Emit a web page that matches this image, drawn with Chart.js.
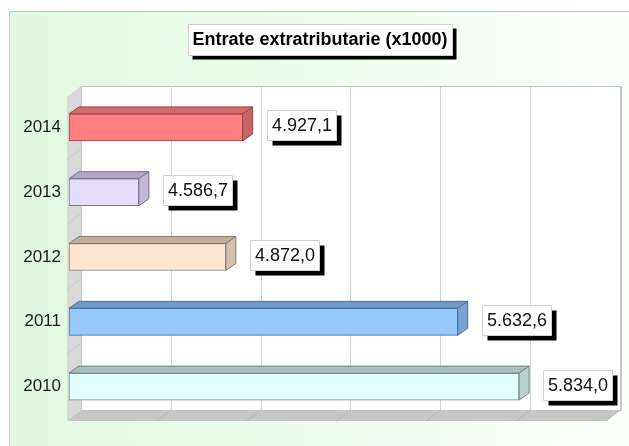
<!DOCTYPE html>
<html>
<head>
<meta charset="utf-8">
<style>
  html, body { margin: 0; padding: 0; background: #fff; }
  #wrap { width: 629px; height: 446px; }
</style>
<script src="https://cdn.jsdelivr.net/npm/chart.js@4.4.1/dist/chart.umd.min.js"></script>
</head>
<body>
<div id="wrap"><canvas id="chart" width="629" height="446"></canvas></div>
<script>
const titleText = 'Entrate extratributarie (x1000)';
const years = ['2014', '2013', '2012', '2011', '2010'];
const values = [4927.1, 4586.7, 4872.0, 5632.6, 5834.0];

// front / top / side faces and edge of each bar
const frontColors = ['#ff8080', '#e6dcff', '#ffe5cf', '#96c8fa', '#e0ffff'];
const topColors = ['#d46a6a', '#b3a6c6', '#c3ae9c', '#6f9bcb', '#a9bfbd'];
const sideColors = ['#c96262', '#c3b8d8', '#d1c0ae', '#7aa3d3', '#b6d1cf'];
const edgeColors = ['#9a4646', '#7d6f8e', '#8a7a6a', '#4a6d96', '#6f8584'];

const axisMin = Math.min(...values) * 0.95;
const axisMax = Math.max(...values) * 1.05;
const gridCount = 6;

const FONT = '"Liberation Sans", Arial, sans-serif';

function fmt(v) {
  const [i, d] = v.toFixed(1).split('.');
  return i.replace(/\B(?=(\d{3})+(?!\d))/g, '.') + ',' + d;
}

function shadowBox(ctx, x, y, w, h, off) {
  ctx.fillStyle = '#000';
  ctx.fillRect(x + off, y + off, w, h);
  ctx.fillStyle = '#fff';
  ctx.fillRect(x, y, w, h);
  ctx.strokeStyle = '#d0d0d0';
  ctx.strokeRect(x, y, w, h);
}

const depth3d = {
  id: 'depth3d',
  beforeDraw(chart) {
    const { ctx, width, height, chartArea: a } = chart;
    const xs = chart.scales.x;
    ctx.save();

    // panel
    ctx.fillStyle = '#fff';
    ctx.fillRect(0, 0, width, height);
    const g = ctx.createLinearGradient(9, 0, width, 0);
    g.addColorStop(0, '#e0f9e0');
    g.addColorStop(1, '#fbfffb');
    ctx.fillStyle = g;
    ctx.fillRect(9, 11, width - 9, height - 11);
    ctx.strokeStyle = '#c4c8c4';
    ctx.lineWidth = 1;
    ctx.beginPath();
    ctx.moveTo(9.5, height);
    ctx.lineTo(9.5, 11.5);
    ctx.lineTo(width, 11.5);
    ctx.stroke();

    // title in a shadowed box
    ctx.font = 'bold 18px ' + FONT;
    const tw = ctx.measureText(titleText).width;
    const cx = 320, cy = 39;
    const bw = Math.round(tw + 9), bh = 31;
    const bx = Math.round(cx - bw / 2) + 0.5, by = Math.round(cy - bh / 2) + 0.5;
    shadowBox(ctx, bx, by, bw, bh, 4);
    ctx.fillStyle = '#000';
    ctx.textAlign = 'center';
    ctx.textBaseline = 'middle';
    ctx.fillText(titleText, cx, cy + 1);

    // walls
    const dx = 14, dy = 11;
    const L = a.left - 2, R = a.right - 2, T = a.top + 2, B = a.bottom + 2;

    // back wall
    ctx.fillStyle = '#fff';
    ctx.fillRect(L + dx, T - dy, R - L, B - T);
    ctx.strokeStyle = '#d2d2d2';
    for (let i = 1; i < gridCount; i++) {
      const v = axisMin + i * (axisMax - axisMin) / gridCount;
      const gx = Math.round(xs.getPixelForValue(v) - 2 + dx) + 0.5;
      ctx.beginPath();
      ctx.moveTo(gx, T - dy);
      ctx.lineTo(gx, B - dy);
      ctx.stroke();
    }
    ctx.strokeStyle = '#c6c6c6';
    ctx.strokeRect(L + dx + 0.5, T - dy + 0.5, R - L, B - T);
    ctx.lineWidth = 2;
    ctx.beginPath();
    ctx.moveTo(R + dx + 1, T - dy);
    ctx.lineTo(R + dx + 1, B - dy);
    ctx.stroke();
    ctx.lineWidth = 1;

    // left wall
    ctx.fillStyle = '#d8d8d8';
    ctx.beginPath();
    ctx.moveTo(L, T);
    ctx.lineTo(L + dx, T - dy);
    ctx.lineTo(L + dx, B - dy);
    ctx.lineTo(L, B);
    ctx.closePath();
    ctx.fill();
    ctx.strokeStyle = '#cacaca';
    const step = (a.bottom - a.top) / years.length;
    for (let k = 1; k < years.length; k++) {
      const yb = a.top + k * step;
      ctx.beginPath();
      ctx.moveTo(L + dx, yb - dy);
      ctx.lineTo(L, yb);
      ctx.stroke();
    }

    // floor
    ctx.fillStyle = '#c6c6c6';
    ctx.beginPath();
    ctx.moveTo(L, B);
    ctx.lineTo(R, B);
    ctx.lineTo(R + dx, B - dy);
    ctx.lineTo(L + dx, B - dy);
    ctx.closePath();
    ctx.fill();
    ctx.strokeStyle = '#b6b6b6';
    for (let i = 1; i <= gridCount; i++) {
      const v = axisMin + i * (axisMax - axisMin) / gridCount;
      const gx = xs.getPixelForValue(v) - 2;
      ctx.beginPath();
      ctx.moveTo(gx + dx, B - dy);
      ctx.lineTo(gx, B);
      ctx.stroke();
    }
    ctx.restore();
  },
  afterDatasetsDraw(chart) {
    const { ctx } = chart;
    const meta = chart.getDatasetMeta(0);
    const bx = 10, by = 7;
    ctx.save();
    ctx.lineWidth = 1;
    ctx.lineJoin = 'round';
    meta.data.forEach((el, i) => {
      const { x, y, base, height } = el.getProps(['x', 'y', 'base', 'height'], true);
      const top = y - height / 2;

      // top face
      ctx.fillStyle = topColors[i];
      ctx.strokeStyle = edgeColors[i];
      ctx.beginPath();
      ctx.moveTo(base, top);
      ctx.lineTo(x, top);
      ctx.lineTo(x + bx, top - by);
      ctx.lineTo(base + bx, top - by);
      ctx.closePath();
      ctx.fill();
      ctx.stroke();

      // side face
      ctx.fillStyle = sideColors[i];
      ctx.beginPath();
      ctx.moveTo(x, top);
      ctx.lineTo(x + bx, top - by);
      ctx.lineTo(x + bx, top + height - by);
      ctx.lineTo(x, top + height);
      ctx.closePath();
      ctx.fill();
      ctx.stroke();

      // value label box
      const label = fmt(values[i]);
      ctx.font = '18px ' + FONT;
      const tw = ctx.measureText(label).width;
      const w = Math.round(tw + 9), h = 30;
      const lx = Math.round(x + 24) + 0.5, ly = Math.round(y - 17) + 0.5;
      shadowBox(ctx, lx, ly, w, h, 5);
      ctx.fillStyle = '#111';
      ctx.textAlign = 'left';
      ctx.textBaseline = 'middle';
      ctx.fillText(label, lx + 4.5, ly + h / 2 + 1);
    });
    ctx.restore();
  }
};

new Chart(document.getElementById('chart'), {
  type: 'bar',
  data: {
    labels: years,
    datasets: [{
      data: values,
      base: axisMin,
      backgroundColor: frontColors,
      borderColor: edgeColors,
      borderWidth: 1,
      borderSkipped: false,
      barThickness: 27
    }]
  },
  options: {
    indexAxis: 'y',
    responsive: false,
    animation: false,
    layout: { padding: { left: 0, right: 21, top: 95, bottom: 27 } },
    plugins: {
      legend: { display: false },
      tooltip: { enabled: false },
      title: { display: false }
    },
    scales: {
      x: {
        display: false,
        min: axisMin,
        max: axisMax
      },
      y: {
        grid: { display: false, drawTicks: false },
        border: { display: false },
        ticks: {
          color: '#1a1a1a',
          padding: 8,
          font: { family: FONT, size: 17 }
        },
        afterFit(scale) { scale.width = 69; }
      }
    }
  },
  plugins: [depth3d]
});
</script>
</body>
</html>
